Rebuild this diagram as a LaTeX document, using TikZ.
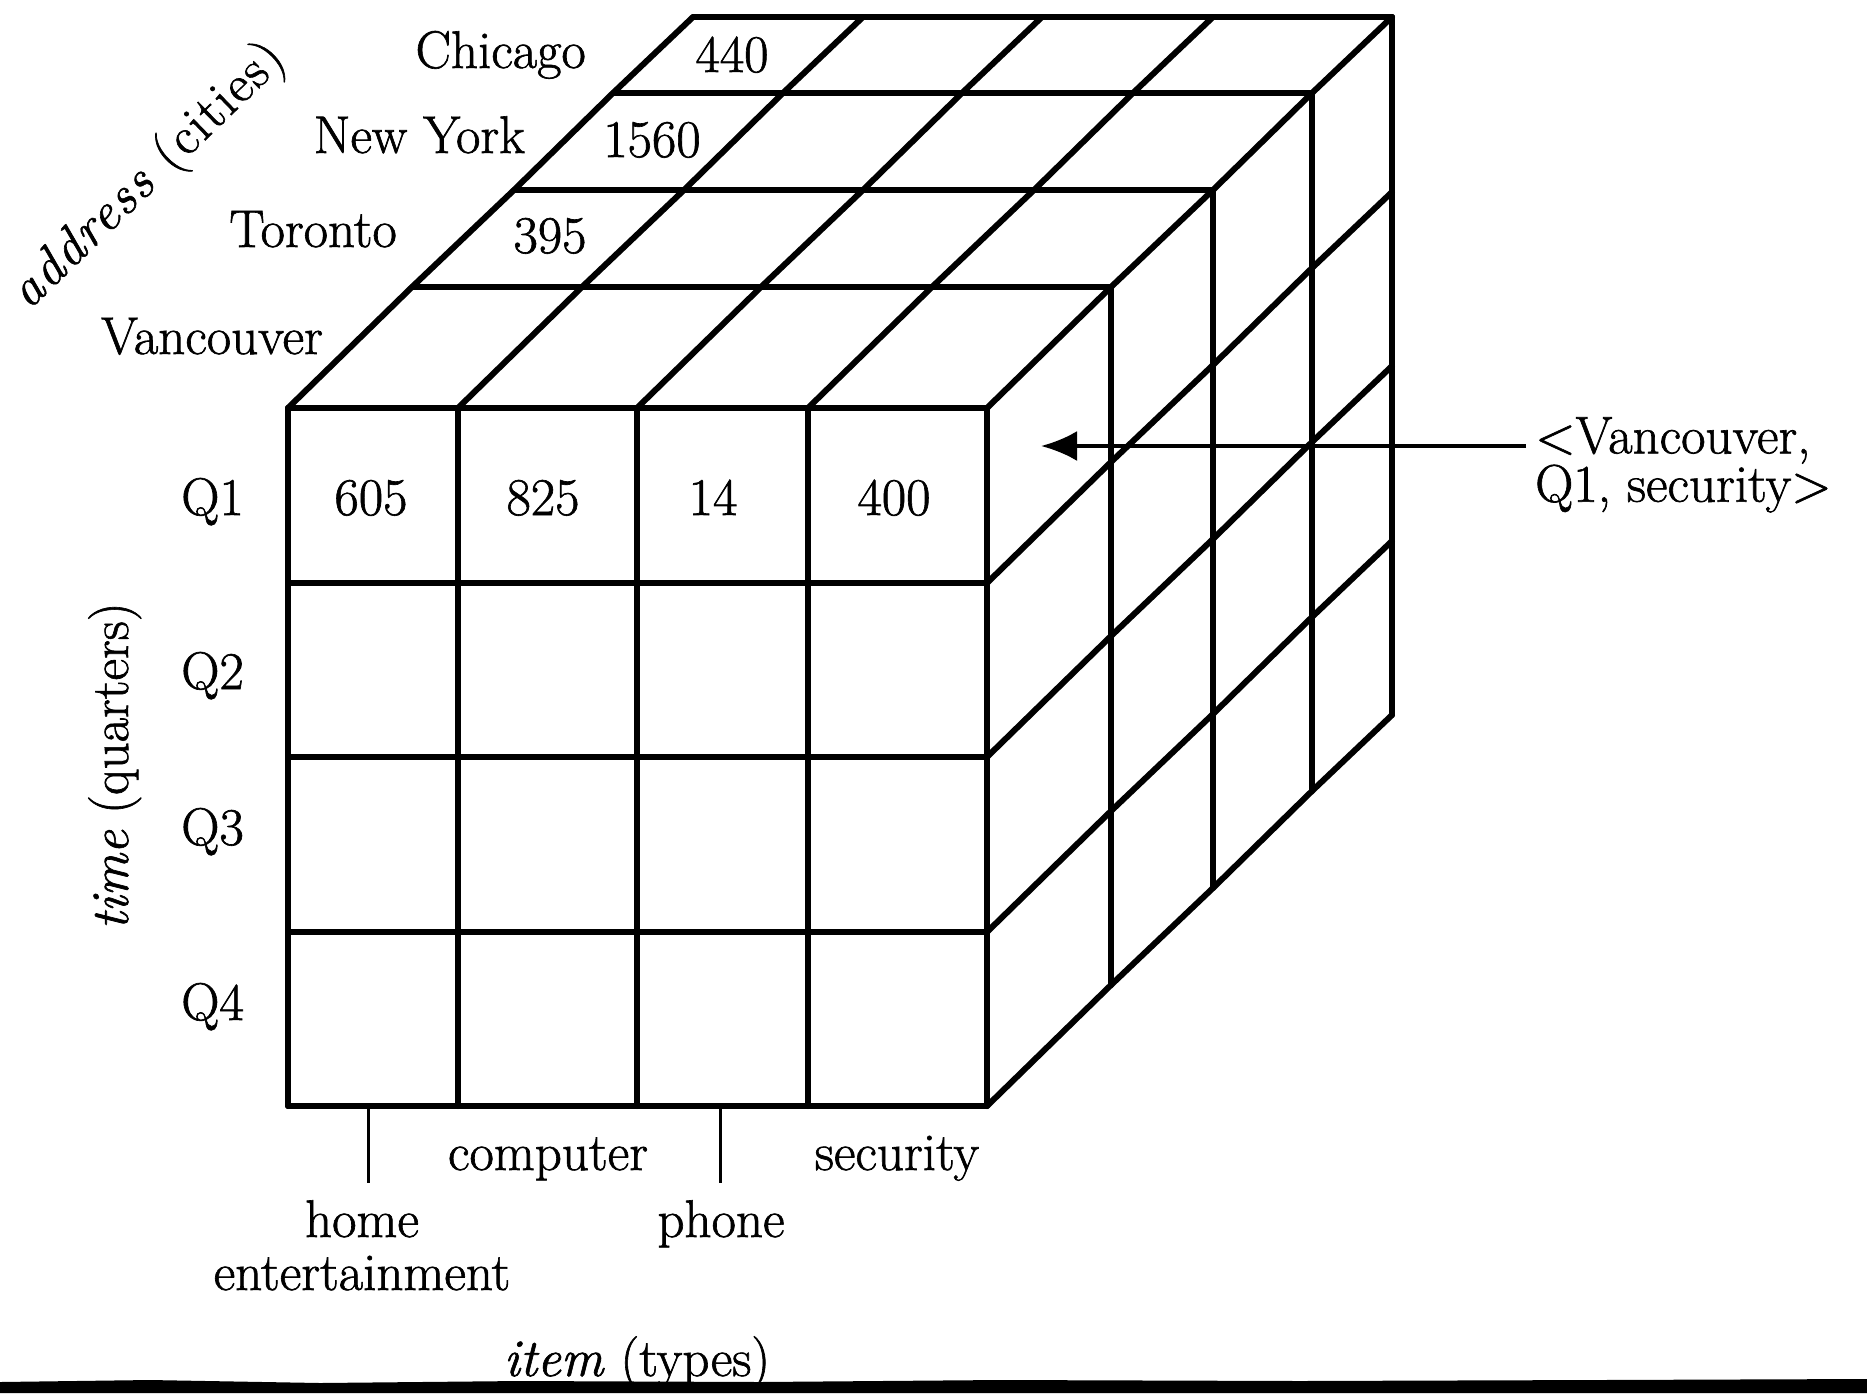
\documentclass[tikz,border=0pt]{standalone}
\usepackage{fontspec}
\setmainfont{Latin Modern Roman}[FakeBold=1.2]
\usetikzlibrary{arrows.meta}
\begin{document}
\begin{tikzpicture}[x=1pt,y=-1pt,
  grid/.style={line width=6pt, line cap=round, line join=round},
  lbl/.style={inner sep=0pt, font=\fontsize{53}{53}\selectfont},
  tickline/.style={line width=3pt},
  pointer/.style={line width=4pt, -{Latex[length=36pt,width=30pt]}}]
\useasboundingbox (0,0) rectangle (1867,1393);
\fill[white] (0,0) rectangle (1867,1393);

% ---- front face
\foreach \y in {408,583,757,932,1106}
  \draw[grid] (288,\y) -- (987,\y);
\foreach \x in {288,458,637,808,987}
  \draw[grid] (\x,408) -- (\x,1106);

% ---- top face
\foreach \dx/\dy in {124/-121,226/-218,325/-315,405/-391}
  \draw[grid] ({288+\dx},{408+\dy}) -- ({987+\dx},{408+\dy});
\foreach \x in {288,458,637,808,987}
  \draw[grid] (\x,408) -- ++(124,-121) -- ++(102,-97) -- ++(99,-97) -- ++(80,-76);

% ---- right face
\foreach \dx/\dy in {124/-121,226/-218,325/-315,405/-391}
  \draw[grid] ({987+\dx},{408+\dy}) -- ({987+\dx},{1106+\dy});
\foreach \y in {583,757,932,1106}
  \draw[grid] (987,\y) -- ++(124,-121) -- ++(102,-97) -- ++(99,-97) -- ++(80,-76);

% ---- city labels and top values
\node[lbl, anchor=base east] (chicago) at (586,68) {Chicago};
\node[lbl, anchor=base east] (newyork) at (525,153) {New York};
\node[lbl, anchor=base east] (toronto) at (397,247) {Toronto};
\node[lbl, anchor=base east] (vancouver) at (323,354) {Vancouver};
\node[lbl, anchor=base] (v440) at (732,72) {440};
\node[lbl, anchor=base] (v1560) at (652,157) {1560};
\node[lbl, anchor=base] (v395) at (550,253) {395};
\node[lbl, anchor=base, rotate=44] (addrax) at (158,186) {\addfontfeature{LetterSpace=4}\textit{address} (cities)};

% ---- quarter labels and front values
\node[lbl, anchor=base east] (q1) at (244,515) {Q1};
\node[lbl, anchor=base east] (q2) at (244,689) {Q2};
\node[lbl, anchor=base east] (q3) at (244,845) {Q3};
\node[lbl, anchor=base east] (q4) at (244,1020) {Q4};
\node[lbl, anchor=base] (v605) at (371,515) {605};
\node[lbl, anchor=base] (v825) at (543,515) {825};
\node[lbl, anchor=base] (v14) at (713,515) {14};
\node[lbl, anchor=base] (v400) at (894,515) {400};
\node[lbl, anchor=base, rotate=90] (timeax) at (128,766) {\textit{time} (quarters)};

% ---- item labels
\coordinate (tickA) at (368,1106);
\coordinate (tickAend) at (368,1183);
\coordinate (tickB) at (720,1106);
\coordinate (tickBend) at (720,1183);
\draw[tickline] (tickA) -- (tickAend);
\draw[tickline] (tickB) -- (tickBend);
\node[lbl, anchor=base] (computer) at (548,1170) {computer};
\node[lbl, anchor=base] (security) at (897,1170) {security};
\node[lbl, anchor=base] (phone) at (721,1237) {phone};
\node[lbl, anchor=north, align=center] (home) at (362,1200) {home\\entertainment};
\node[lbl, anchor=base] (itemax) at (637,1376) {\textit{item} (types)};

% ---- pointer to the cell
\node[lbl, anchor=north west, align=left, font=\fontsize{53}{47}\selectfont] (tuple) at (1535,417) {<Vancouver,\\Q1, security>};
\coordinate (cell) at (1041,446);
\draw[pointer, shorten <=9pt] (tuple.west |- cell) -- (cell);

% ---- dark torn strip at the bottom
\fill[black] (0,1393) -- (0,1382) -- (150,1380) -- (320,1383) -- (520,1381) -- (760,1382) -- (1000,1380) -- (1300,1381) -- (1600,1380) -- (1867,1379) -- (1867,1393) -- cycle;
\end{tikzpicture}
\end{document}
